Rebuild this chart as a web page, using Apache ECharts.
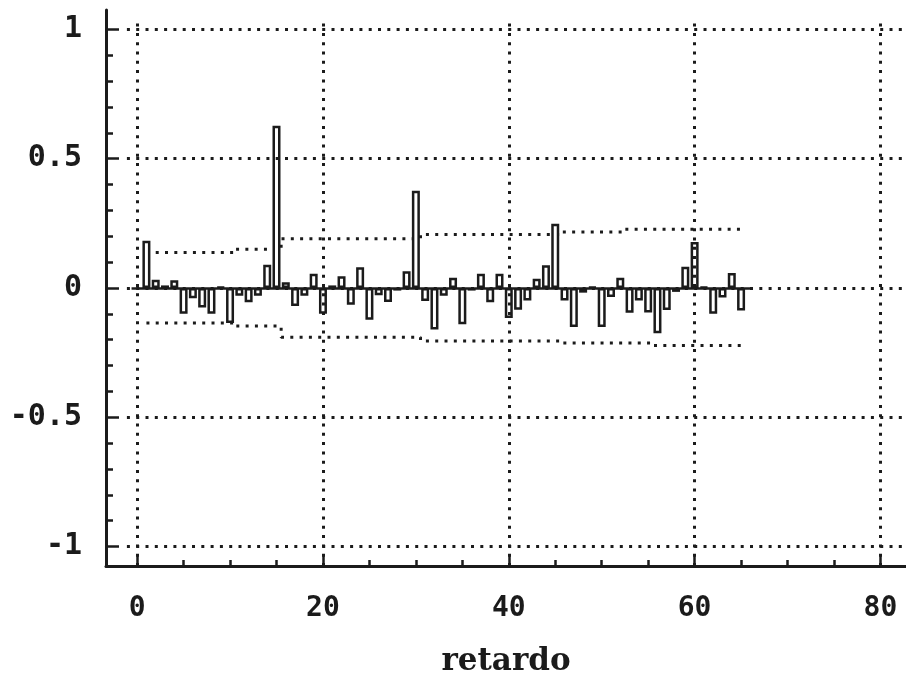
<!DOCTYPE html>
<html>
<head>
<meta charset="utf-8">
<script src="https://cdn.jsdelivr.net/npm/echarts@6/dist/echarts.min.js"></script>
<style>
  html, body { margin: 0; padding: 0; background: #fff; }
  #chart { width: 906px; height: 675px; }
</style>
</head>
<body>
<div id="chart"></div>
<script>
// Lags of the sample autocorrelation function
const lags = [
  1, 2, 3, 4, 5, 6, 7, 8, 9, 10,
  11, 12, 13, 14, 15, 16, 17, 18, 19, 20,
  21, 22, 23, 24, 25, 26, 27, 28, 29, 30,
  31, 32, 33, 34, 35, 36, 37, 38, 39, 40,
  41, 42, 43, 44, 45, 46, 47, 48, 49, 50,
  51, 52, 53, 54, 55, 56, 57, 58, 59, 60,
  61, 62, 63, 64, 65
];

// Autocorrelation at each lag
const acf = [
  0.183, 0.032, 0.010, 0.030, -0.100, -0.040, -0.075, -0.100, 0.003, -0.135,
  -0.030, -0.055, -0.030, 0.090, 0.627, 0.022, -0.070, -0.030, 0.055, -0.100,
  0.010, 0.045, -0.065, 0.080, -0.123, -0.028, -0.054, -0.010, 0.065, 0.376,
  -0.050, -0.160, -0.030, 0.040, -0.140, -0.010, 0.055, -0.055, 0.055, -0.116,
  -0.084, -0.048, 0.036, 0.088, 0.248, -0.048, -0.151, -0.018, 0.003, -0.151,
  -0.035, 0.040, -0.096, -0.048, -0.095, -0.175, -0.085, -0.015, 0.082, 0.178,
  0.003, -0.100, -0.037, 0.058, -0.087
];

// Upper and lower significance limits at each lag
const bandUpper = [
  0.137, 0.137, 0.137, 0.137, 0.137, 0.137, 0.137, 0.137, 0.137, 0.137,
  0.150, 0.150, 0.150, 0.150, 0.150, 0.190, 0.190, 0.190, 0.190, 0.190,
  0.190, 0.190, 0.190, 0.190, 0.190, 0.190, 0.190, 0.190, 0.190, 0.190,
  0.207, 0.207, 0.207, 0.207, 0.207, 0.207, 0.207, 0.207, 0.207, 0.207,
  0.207, 0.207, 0.207, 0.207, 0.207, 0.217, 0.217, 0.217, 0.217, 0.217,
  0.217, 0.217, 0.227, 0.227, 0.227, 0.227, 0.227, 0.227, 0.227, 0.227,
  0.227, 0.227, 0.227, 0.227, 0.227
];
const bandLower = [
  -0.135, -0.135, -0.135, -0.135, -0.135, -0.135, -0.135, -0.135, -0.135, -0.135,
  -0.147, -0.147, -0.147, -0.147, -0.147, -0.190, -0.190, -0.190, -0.190, -0.190,
  -0.190, -0.190, -0.190, -0.190, -0.190, -0.190, -0.190, -0.190, -0.190, -0.190,
  -0.205, -0.205, -0.205, -0.205, -0.205, -0.205, -0.205, -0.205, -0.205, -0.205,
  -0.205, -0.205, -0.205, -0.205, -0.205, -0.213, -0.213, -0.213, -0.213, -0.213,
  -0.213, -0.213, -0.213, -0.213, -0.213, -0.222, -0.222, -0.222, -0.222, -0.222,
  -0.222, -0.222, -0.222, -0.222, -0.222
];

// Axis tick positions
const yTickLabels = [-1, -0.5, 0, 0.5, 1];
const yMinorTicks = [-0.9, -0.8, -0.7, -0.6, -0.4, -0.3, -0.2, -0.1,
                     0.1, 0.2, 0.3, 0.4, 0.6, 0.7, 0.8, 0.9];
const xTickLabels = [0, 20, 40, 60, 80];
const xMinorTicks = [5, 10, 15, 25, 30, 35, 45, 50, 55, 65, 70, 75];

const X_MIN = -3.35, X_MAX = 82.75;
const Y_MIN = -1.075, Y_MAX = 1.075;
const ink = '#1b1b1b';
const dotted = { color: ink, width: 3, type: [3, 6.3], cap: 'butt' };
const tickFont = { fontFamily: 'DejaVu Sans Mono', fontWeight: 'bold', color: ink };

const chart = echarts.init(document.getElementById('chart'), null, { renderer: 'canvas' });

// Dotted reference grid drawn as mark lines in data coordinates
const gridLines = [];
yTickLabels.forEach(v => gridLines.push([{ coord: [-1.1, v] }, { coord: [X_MAX, v] }]));
xTickLabels.forEach(v => gridLines.push([{ coord: [v, Y_MIN] }, { coord: [v, 1.04] }]));

chart.setOption({
  animation: false,
  backgroundColor: '#fff',
  grid: { left: 106, right: 0, top: 10, bottom: 109, containLabel: false,
          outerBoundsMode: 'none' },
  xAxis: [
    {
      type: 'value', min: X_MIN, max: X_MAX, position: 'bottom',
      axisLine: { show: true, onZero: false, lineStyle: { color: ink, width: 3 } },
      axisTick: { show: true, inside: true, length: 12, customValues: xTickLabels,
                  lineStyle: { color: ink, width: 2.5 } },
      axisLabel: Object.assign({ customValues: xTickLabels, margin: 29, fontSize: 28,
                                 formatter: v => String(v) }, tickFont),
      splitLine: { show: false },
      name: 'retardo', nameLocation: 'middle', nameGap: 80,
      nameTextStyle: { fontFamily: 'DejaVu Serif', fontWeight: 'bold', fontSize: 31, color: ink }
    },
    {
      type: 'value', min: X_MIN, max: X_MAX, position: 'bottom',
      axisLine: { show: false, onZero: false },
      axisTick: { show: true, inside: true, length: 6, customValues: xMinorTicks,
                  lineStyle: { color: ink, width: 2.5 } },
      axisLabel: { show: false },
      splitLine: { show: false }
    }
  ],
  yAxis: [
    {
      type: 'value', min: Y_MIN, max: Y_MAX, position: 'left',
      axisLine: { show: true, onZero: false, lineStyle: { color: ink, width: 3 } },
      axisTick: { show: true, inside: true, length: 13, customValues: yTickLabels,
                  lineStyle: { color: ink, width: 2.5 } },
      axisLabel: Object.assign({ customValues: yTickLabels, margin: 24, fontSize: 30,
                                 formatter: v => String(v) }, tickFont),
      splitLine: { show: false }
    },
    {
      type: 'value', min: Y_MIN, max: Y_MAX, position: 'left',
      axisLine: { show: false, onZero: false },
      axisTick: { show: true, inside: true, length: 7, customValues: yMinorTicks,
                  lineStyle: { color: ink, width: 2.5 } },
      axisLabel: { show: false },
      splitLine: { show: false }
    }
  ],
  series: [
    {
      name: 'grid', type: 'line', data: [], silent: true, z: 1,
      markLine: { silent: true, symbol: ['none', 'none'], label: { show: false },
                  lineStyle: dotted, emphasis: { disabled: true }, data: gridLines }
    },
    {
      name: 'upper', type: 'line', step: 'middle', showSymbol: false, silent: true, z: 2,
      data: lags.map((l, i) => [l, bandUpper[i]]), lineStyle: dotted
    },
    {
      name: 'lower', type: 'line', step: 'middle', showSymbol: false, silent: true, z: 2,
      data: lags.map((l, i) => [l, bandLower[i]]), lineStyle: dotted
    },
    {
      name: 'acf', type: 'bar', barWidth: 8, z: 3,
      data: lags.map((l, i) => [l, acf[i]]),
      itemStyle: { color: '#fff', borderColor: ink, borderWidth: 2.5 }
    },
    {
      name: 'zero', type: 'line', data: [], silent: true, z: 4,
      markLine: { silent: true, symbol: ['none', 'none'], label: { show: false },
                  lineStyle: { color: ink, width: 2.5, type: 'solid' },
                  emphasis: { disabled: true },
                  data: [[{ coord: [-0.6, 0] }, { coord: [66, 0] }]] }
    }
  ]
});
</script>
</body>
</html>
